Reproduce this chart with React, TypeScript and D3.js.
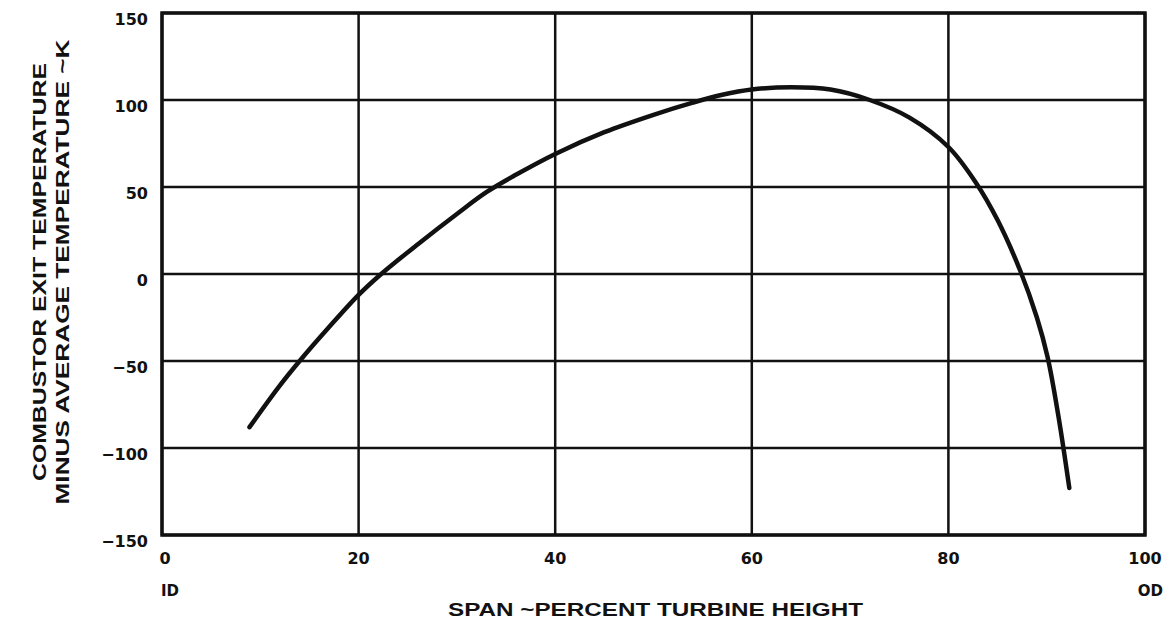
import React, { useRef, useEffect } from 'react';
import * as d3 from 'd3';

// span (% turbine height) vs temperature difference (K)
const spanPct = [8.9, 12, 14, 17, 20, 22.3, 26, 30, 33, 36, 40, 45, 50, 54, 57, 60, 64, 68, 72, 76, 80, 82.8, 85, 87.3, 89, 90.1, 91.2, 92.3];
const tempDiff = [-88, -64, -50, -30.5, -12, 0, 17, 34.5, 47, 57, 69, 81.5, 91.5, 98.5, 103, 106, 107.3, 106, 100, 90, 73, 52.5, 31, 2, -25, -48, -82, -123];

const xTicks = [0, 20, 40, 60, 80, 100];
const yTicks = [-150, -100, -50, 0, 50, 100, 150];

const xTitle = 'SPAN ~PERCENT TURBINE HEIGHT';
const yTitle1 = 'COMBUSTOR EXIT TEMPERATURE';
const yTitle2 = 'MINUS AVERAGE TEMPERATURE ~K';

function App() {
  const svgRef = useRef<SVGSVGElement>(null);

  useEffect(() => {
    const W = 1174;
    const H = 625;
    const margin = { top: 13, right: 29, bottom: 90, left: 162 };
    const width = W - margin.left - margin.right;
    const height = H - margin.top - margin.bottom;

    const root = d3.select(svgRef.current);
    root.selectAll('*').remove();
    root.attr('width', W).attr('height', H);

    const svg = root.append('g')
      .attr('transform', `translate(${margin.left},${margin.top})`);

    const x = d3.scaleLinear().domain([0, 100]).range([0, width]);
    const y = d3.scaleLinear().domain([-150, 150]).range([height, 0]);

    const ink = '#111';
    const font = '"DejaVu Sans", Arial, sans-serif';

    // Grid lines
    svg.selectAll('.vgrid')
      .data(xTicks)
      .enter()
      .append('line')
      .attr('x1', d => x(d))
      .attr('x2', d => x(d))
      .attr('y1', 0)
      .attr('y2', height)
      .attr('stroke', ink)
      .attr('stroke-width', 2.5);

    svg.selectAll('.hgrid')
      .data(yTicks)
      .enter()
      .append('line')
      .attr('x1', 0)
      .attr('x2', width)
      .attr('y1', d => y(d))
      .attr('y2', d => y(d))
      .attr('stroke', ink)
      .attr('stroke-width', 2.5);

    // Frame
    svg.append('rect')
      .attr('x', 0)
      .attr('y', 0)
      .attr('width', width)
      .attr('height', height)
      .attr('fill', 'none')
      .attr('stroke', ink)
      .attr('stroke-width', 3.5);

    // Curve
    const pts = spanPct.map((s, i) => [s, tempDiff[i]] as [number, number]);
    const line = d3.line<[number, number]>()
      .x(d => x(d[0]))
      .y(d => y(d[1]))
      .curve(d3.curveCatmullRom.alpha(0.5));

    svg.append('path')
      .datum(pts)
      .attr('d', line)
      .attr('fill', 'none')
      .attr('stroke', ink)
      .attr('stroke-width', 4.5)
      .attr('stroke-linecap', 'round');

    // Y tick labels
    svg.selectAll('.ylab')
      .data(yTicks)
      .enter()
      .append('text')
      .attr('x', -14)
      .attr('y', d => y(d) + 12)
      .attr('text-anchor', 'end')
      .style('font-family', font)
      .style('font-weight', 'bold')
      .style('font-size', '16px')
      .attr('fill', ink)
      .text(d => (d < 0 ? '\u2212' + Math.abs(d) : String(d)));

    // X tick labels
    svg.selectAll('.xlab')
      .data(xTicks)
      .enter()
      .append('text')
      .attr('x', d => x(d) + (d === 0 ? 3 : 0))
      .attr('y', height + 29)
      .attr('text-anchor', 'middle')
      .style('font-family', font)
      .style('font-weight', 'bold')
      .style('font-size', '16px')
      .attr('fill', ink)
      .text(d => String(d));

    svg.append('text')
      .attr('x', x(0) - 1)
      .attr('y', height + 61)
      .attr('text-anchor', 'start')
      .style('font-family', font)
      .style('font-weight', 'bold')
      .style('font-size', '15px')
      .attr('fill', ink)
      .text('ID');

    svg.append('text')
      .attr('x', x(100) + 18)
      .attr('y', height + 61)
      .attr('text-anchor', 'end')
      .style('font-family', font)
      .style('font-weight', 'bold')
      .style('font-size', '15px')
      .attr('fill', ink)
      .text('OD');

    // X axis title
    svg.append('text')
      .attr('x', 448 - margin.left)
      .attr('y', height + 81)
      .attr('textLength', 415)
      .attr('lengthAdjust', 'spacingAndGlyphs')
      .style('font-family', 'Arial, "Liberation Sans", sans-serif')
      .style('font-weight', 'bold')
      .style('font-size', '18px')
      .attr('fill', ink)
      .text(xTitle);

    // Y axis titles (two lines, rotated)
    const yCenter = 272 - margin.top;
    svg.append('text')
      .attr('transform', `translate(${46 - margin.left},${yCenter}) rotate(-90)`)
      .attr('text-anchor', 'middle')
      .attr('textLength', 418)
      .attr('lengthAdjust', 'spacingAndGlyphs')
      .style('font-family', 'Arial, "Liberation Sans", sans-serif')
      .style('font-weight', 'bold')
      .style('font-size', '18px')
      .attr('fill', ink)
      .text(yTitle1);

    svg.append('text')
      .attr('transform', `translate(${69 - margin.left},${yCenter}) rotate(-90)`)
      .attr('text-anchor', 'middle')
      .attr('textLength', 465)
      .attr('lengthAdjust', 'spacingAndGlyphs')
      .style('font-family', 'Arial, "Liberation Sans", sans-serif')
      .style('font-weight', 'bold')
      .style('font-size', '18px')
      .attr('fill', ink)
      .text(yTitle2);
  }, []);

  return <svg ref={svgRef} style={{ position: 'absolute', left: 0, top: 0, background: '#fff' }}></svg>;
}

export default App;
